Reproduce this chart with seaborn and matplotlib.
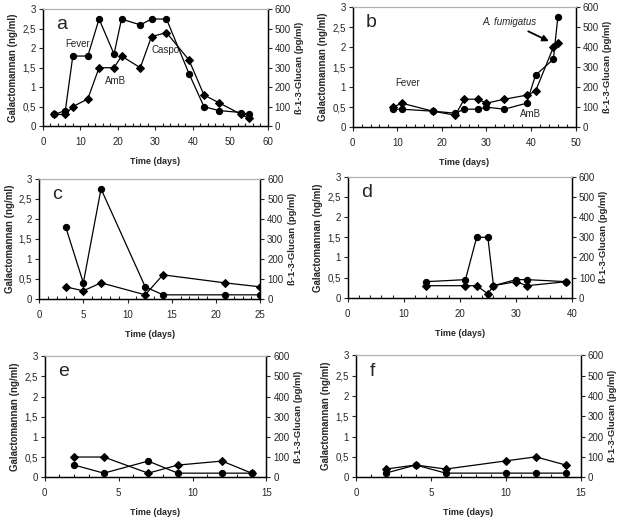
import matplotlib.pyplot as plt
import seaborn as sns
from matplotlib.ticker import MultipleLocator

sns.set_style('white')
plt.rcParams['font.family'] = ['Liberation Sans', 'DejaVu Sans']

# panel data: days, galactomannan (ng/ml), glucan (pg/ml)
a_days = [3, 6, 8, 12, 15, 19, 21, 26, 29, 33, 39, 43, 47, 53, 55]
a_gm = [0.3, 0.3, 0.5, 0.7, 1.5, 1.5, 1.8, 1.5, 2.3, 2.4, 1.7, 0.8, 0.6, 0.3, 0.2]
a_glu = [60, 80, 360, 360, 550, 370, 550, 520, 550, 550, 270, 100, 80, 70, 60]

b_days = [9, 11, 18, 23, 25, 28, 30, 34, 39, 41, 45, 46]
b_gm = [0.5, 0.6, 0.4, 0.3, 0.7, 0.7, 0.6, 0.7, 0.8, 0.9, 2.0, 2.1]
b_glu = [90, 90, 80, 70, 90, 90, 100, 90, 120, 260, 340, 550]

c_days = [3, 5, 7, 12, 14, 21, 25]
c_gm = [0.3, 0.2, 0.4, 0.1, 0.6, 0.4, 0.3]
c_glu = [360, 80, 550, 60, 20, 20, 20]

d_days = [14, 21, 23, 25, 26, 30, 32, 39]
d_gm = [0.3, 0.3, 0.3, 0.1, 0.3, 0.4, 0.3, 0.4]
d_glu = [80, 90, 300, 300, 60, 90, 90, 80]

e_days = [2, 4, 7, 9, 12, 14]
e_gm = [0.5, 0.5, 0.1, 0.3, 0.4, 0.1]
e_glu = [60, 20, 80, 20, 20, 20]

f_days = [2, 4, 6, 10, 12, 14]
f_gm = [0.2, 0.3, 0.2, 0.4, 0.5, 0.3]
f_glu = [20, 60, 20, 20, 20, 20]

gm_ticks = [0, 0.5, 1, 1.5, 2, 2.5, 3]
gm_labels = ['0', '0,5', '1', '1,5', '2', '2,5', '3']
glu_ticks = [0, 100, 200, 300, 400, 500, 600]

panels = [
    ('a', a_days, a_gm, a_glu, 60, 10, 2, [0.069, 0.756, 0.362, 0.226]),
    ('b', b_days, b_gm, b_glu, 50, 10, 2, [0.568, 0.754, 0.359, 0.232]),
    ('c', c_days, c_gm, c_glu, 25, 5, 1, [0.063, 0.422, 0.356, 0.232]),
    ('d', d_days, d_gm, d_glu, 40, 10, 2, [0.560, 0.424, 0.361, 0.234]),
    ('e', e_days, e_gm, e_glu, 15, 5, 1, [0.072, 0.077, 0.357, 0.234]),
    ('f', f_days, f_gm, f_glu, 15, 5, 1, [0.573, 0.077, 0.362, 0.236]),
]

fig = plt.figure(figsize=(6.21, 5.17), dpi=100)
axes = {}
for name, days, gm, glu, xmax, major, minor, rect in panels:
    ax = fig.add_axes(rect)
    ax2 = ax.twinx()
    sns.lineplot(x=days, y=gm, ax=ax, color='black', marker='D', markersize=4.5,
                 linewidth=0.9, markeredgecolor='black')
    sns.lineplot(x=days, y=glu, ax=ax2, color='black', marker='o', markersize=4.5,
                 linewidth=0.9, markeredgecolor='black')
    ax.set_xlim(0, xmax)
    ax.set_ylim(0, 3)
    ax2.set_ylim(0, 600)
    ax.set_yticks(gm_ticks)
    ax.set_yticklabels(gm_labels)
    ax2.set_yticks(glu_ticks)
    ax.xaxis.set_major_locator(MultipleLocator(major))
    ax.xaxis.set_minor_locator(MultipleLocator(minor))
    ax.tick_params(axis='x', which='major', direction='out', length=3, width=0.8,
                   labelsize=7, bottom=True, pad=5)
    ax.tick_params(axis='x', which='minor', direction='in', length=2.5, width=0.8, bottom=True)
    ax.tick_params(axis='y', direction='out', length=3, width=0.8, labelsize=7, left=True, pad=2)
    ax2.tick_params(axis='y', direction='out', length=3, width=0.8, labelsize=7, right=True, pad=2)
    for a_ in (ax, ax2):
        for side in ('left', 'right', 'bottom'):
            a_.spines[side].set_color('black')
            a_.spines[side].set_linewidth(0.9)
        a_.spines['top'].set_color('#b0b0b0')
        a_.spines['top'].set_linewidth(0.8)
    ax.set_xlabel('Time (days)', fontsize=6.5, fontweight='bold', labelpad=7)
    ax.set_ylabel('Galactomannan (ng/ml)', fontsize=7, fontweight='bold', labelpad=3)
    ax2.set_ylabel('ß-1-3-Glucan (pg/ml)', fontsize=6.8, fontweight='bold', labelpad=3)
    ax.text(0.06, 0.87, name, transform=ax.transAxes, fontsize=14, va='center', ha='left')
    axes[name] = ax

ax = axes['a']
ax.text(9.2, 2.1, 'Fever', fontsize=7, ha='center', va='center')
ax.text(19.5, 1.15, 'AmB', fontsize=7, ha='center', va='center')
ax.text(32.8, 1.95, 'Caspo', fontsize=7, ha='center', va='center')

ax = axes['b']
ax.text(12.3, 1.1, 'Fever', fontsize=7, ha='center', va='center')
ax.text(39.9, 0.32, 'AmB', fontsize=7, ha='center', va='center')
ax.annotate('A. fumigatus', xy=(44, 2.15), xytext=(35.2, 2.62), fontsize=7,
            style='italic', ha='center', va='center',
            arrowprops=dict(arrowstyle='-|>', color='black', lw=1.3,
                            shrinkA=1, shrinkB=0, mutation_scale=9))

fig.savefig('out.png', dpi=100)
